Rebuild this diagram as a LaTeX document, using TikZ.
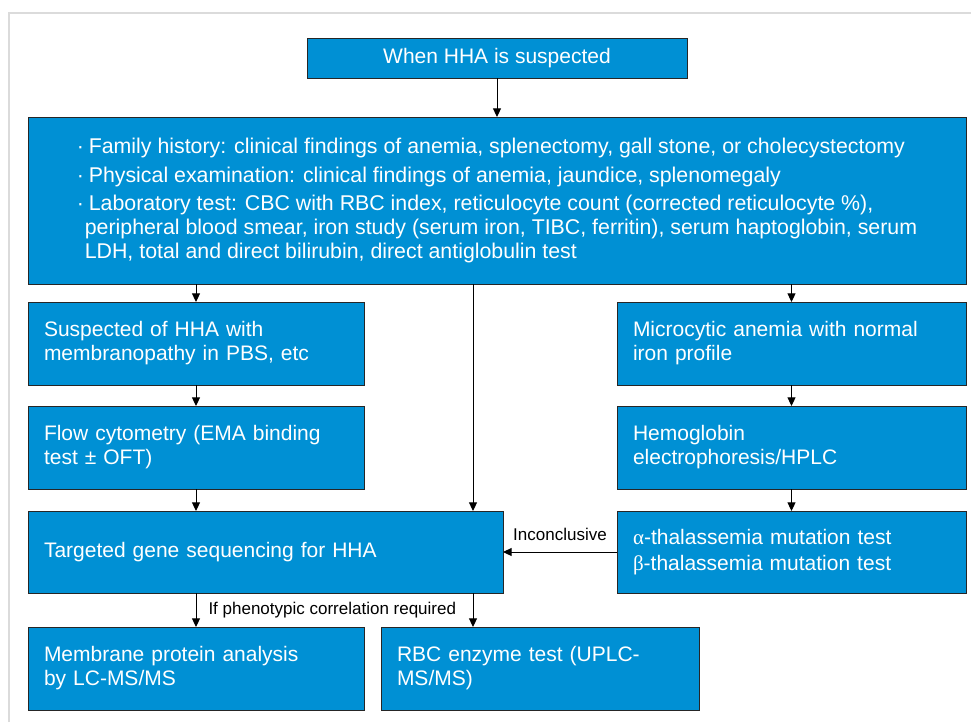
\documentclass[tikz,border=0pt]{standalone}
\usepackage{fontspec}
\setmainfont{Liberation Sans}
\newfontfamily\greekfont{Liberation Serif}
\usetikzlibrary{arrows.meta, positioning}
\definecolor{hhablue}{HTML}{0090D4}
\newcommand{\listdot}{\makebox[9pt][l]{·}}

\begin{document}
\begin{tikzpicture}[
    x=0.75pt, y=-0.75pt,
    node distance=13.5pt and 12.75pt,
    box/.style={draw=black!85, fill=hhablue, text=white, line width=0.75pt, outer sep=0pt, align=left, inner xsep=12pt, inner ysep=0pt, minimum height=62.25pt, font=\fontsize{15.75}{18}\selectfont},
    arrow/.style={-{Triangle[length=6.5pt,width=6pt]}, line width=0.75pt},
    tag/.style={font=\fontsize{12.75}{15}\selectfont, inner sep=2pt}
]
\useasboundingbox (0,0) rectangle (971,722);

% outer frame
\draw[black!14, line width=1.5pt] (9,722) -- (9,13) -- (971,13);

% Start
\node[box, align=center, minimum width=285pt, minimum height=30pt] (start) at (497,58) {When HHA is suspected};

% Work-up
\node[box, minimum width=703.5pt, minimum height=125.25pt, font=\fontsize{16}{18}\selectfont, below=29.25pt of start] (workup) {\listdot Family history: clinical findings of anemia, splenectomy, gall stone, or cholecystectomy\\[3.5pt]
\listdot Physical examination: clinical findings of anemia, jaundice, splenomegaly\\[3.5pt]
\listdot Laboratory test: CBC with RBC index, reticulocyte count (corrected reticulocyte \%),\\
\hspace*{6pt}peripheral blood smear, iron study (serum iron, TIBC, ferritin), serum haptoglobin, serum\\
\hspace*{6pt}LDH, total and direct bilirubin, direct antiglobulin test};

% Membranopathy branch
\node[box, text width=228pt, below right=13.5pt and 0pt of workup.south west] (suspect) {Suspected of HHA with\\membranopathy in PBS, etc};
\node[box, text width=228pt, below=15.75pt of suspect] (flow) {Flow cytometry (EMA binding\\test ± OFT)};
\node[box, text width=332.25pt, minimum height=61.5pt, below right=16.5pt and 0pt of flow.south west] (genes) {Targeted gene sequencing for HHA};
\node[box, text width=228pt, below right=25.5pt and 0pt of genes.south west] (membrane) {Membrane protein analysis\\by LC-MS/MS};
\node[box, text width=214.5pt, right=12.75pt of membrane] (enzyme) {RBC enzyme test (UPLC-\\MS/MS)};

% Thalassemia branch
\node[box, text width=237.75pt, below left=13.5pt and 0pt of workup.south east] (microcytic) {Microcytic anemia with normal\\iron profile};
\node[box, text width=237.75pt, below=15.75pt of microcytic] (hemoglobin) {Hemoglobin\\electrophoresis/HPLC};
\node[box, text width=237.75pt, minimum height=61.5pt, below=16.5pt of hemoglobin] (thalassemia) {{\greekfont α}-thalassemia mutation test\\[1.5pt]{\greekfont β}-thalassemia mutation test};

\coordinate (spine) at (473,0);

% Arrows
\draw[arrow] (start) -- (workup);
\draw[arrow] (workup.south -| suspect.north) -- (suspect);
\draw[arrow] (workup.south -| spine) -- (genes.north -| spine);
\draw[arrow] (workup.south -| microcytic.north) -- (microcytic);
\draw[arrow] (suspect) -- (flow);
\draw[arrow] (flow.south) -- (flow.south |- genes.north);
\draw[arrow] (microcytic) -- (hemoglobin);
\draw[arrow] (hemoglobin) -- (thalassemia);
\draw[arrow] (thalassemia) -- node[tag, above=6pt] {Inconclusive} (genes);
\draw[arrow] (genes.south -| membrane.north) -- node[tag, right=7pt] {If phenotypic correlation required} (membrane);
\draw[arrow] (genes.south -| spine) -- (enzyme.north -| spine);

\end{tikzpicture}
\end{document}
